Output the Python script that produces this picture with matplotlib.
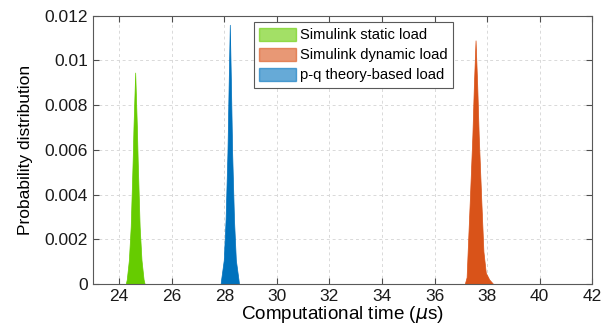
import matplotlib.pyplot as plt
from matplotlib.patches import Patch

plt.rcParams['font.family'] = ['Liberation Sans', 'DejaVu Sans']

# computational time (us) and probability values read from the peaks
static_t = [24.25, 24.29, 24.37, 24.44, 24.515, 24.545, 24.61, 24.675, 24.705, 24.78, 24.85, 24.93, 24.97]
static_p = [0, 0.0002, 0.00107, 0.00257, 0.00555, 0.0070, 0.00946, 0.0070, 0.00555, 0.00257, 0.00107, 0.0002, 0]

pq_t = [27.86, 27.88, 27.98, 28.05, 28.12, 28.165, 28.21, 28.255, 28.30, 28.37, 28.44, 28.54, 28.56]
pq_p = [0, 0.0002, 0.00107, 0.00287, 0.00585, 0.00883, 0.0116, 0.00883, 0.00585, 0.00287, 0.00107, 0.0002, 0]

dyn_t = [37.15, 37.22, 37.26, 37.34, 37.44, 37.497, 37.56, 37.623, 37.68, 37.78, 37.86, 37.95, 38.08, 38.23]
dyn_p = [0, 0.0003, 0.00145, 0.00369, 0.00667, 0.0089, 0.0109, 0.0089, 0.00667, 0.00369, 0.00145, 0.0005, 0.0002, 0]

labels = ['Simulink static load', 'Simulink dynamic load', 'p-q theory-based load']
colors = ['#66CC00', '#D95319', '#0072BD']

xticks = list(range(24, 43, 2))
yticks = [0, 0.002, 0.004, 0.006, 0.008, 0.01, 0.012]
ytick_labels = ['0', '0.002', '0.004', '0.006', '0.008', '0.01', '0.012']

fig = plt.figure(figsize=(6.15, 3.29), dpi=100)
ax = fig.add_axes([0.151, 0.137, 0.812, 0.815])

ax.fill_between(static_t, static_p, color=colors[0], lw=0.5)
ax.fill_between(dyn_t, dyn_p, color=colors[1], lw=0.5)
ax.fill_between(pq_t, pq_p, color=colors[2], lw=0.5)

ax.set_xlim(23, 42)
ax.set_ylim(0, 0.012)
ax.set_xticks(xticks)
ax.set_yticks(yticks)
ax.set_yticklabels(ytick_labels)
ax.tick_params(direction='in', top=True, right=True, labelsize=12.5, colors='0.3',
               labelcolor='0.1', length=4, width=0.8)
for s in ax.spines.values():
    s.set_color('0.35')
    s.set_linewidth(0.8)
ax.grid(True, linestyle=(0, (3, 3)), color='0.85', linewidth=0.7)
ax.set_axisbelow(True)

ax.set_xlabel(r'Computational time ($\mu$s)', fontsize=13.6, labelpad=0)
ax.set_ylabel('Probability distribution', fontsize=12.5, labelpad=8)

handles = [Patch(facecolor=c, edgecolor=c, alpha=0.6) for c in colors]
leg = fig.legend(handles, labels, loc='upper left', bbox_to_anchor=(0.4125, 0.932),
                 fontsize=10.6, handlelength=2.5, handleheight=1.05, handletextpad=0.3,
                 labelspacing=0.35, borderpad=0.35, borderaxespad=0, fancybox=False,
                 framealpha=1, edgecolor='0.35')
leg.get_frame().set_linewidth(0.8)

fig.savefig('out.png', dpi=100)
